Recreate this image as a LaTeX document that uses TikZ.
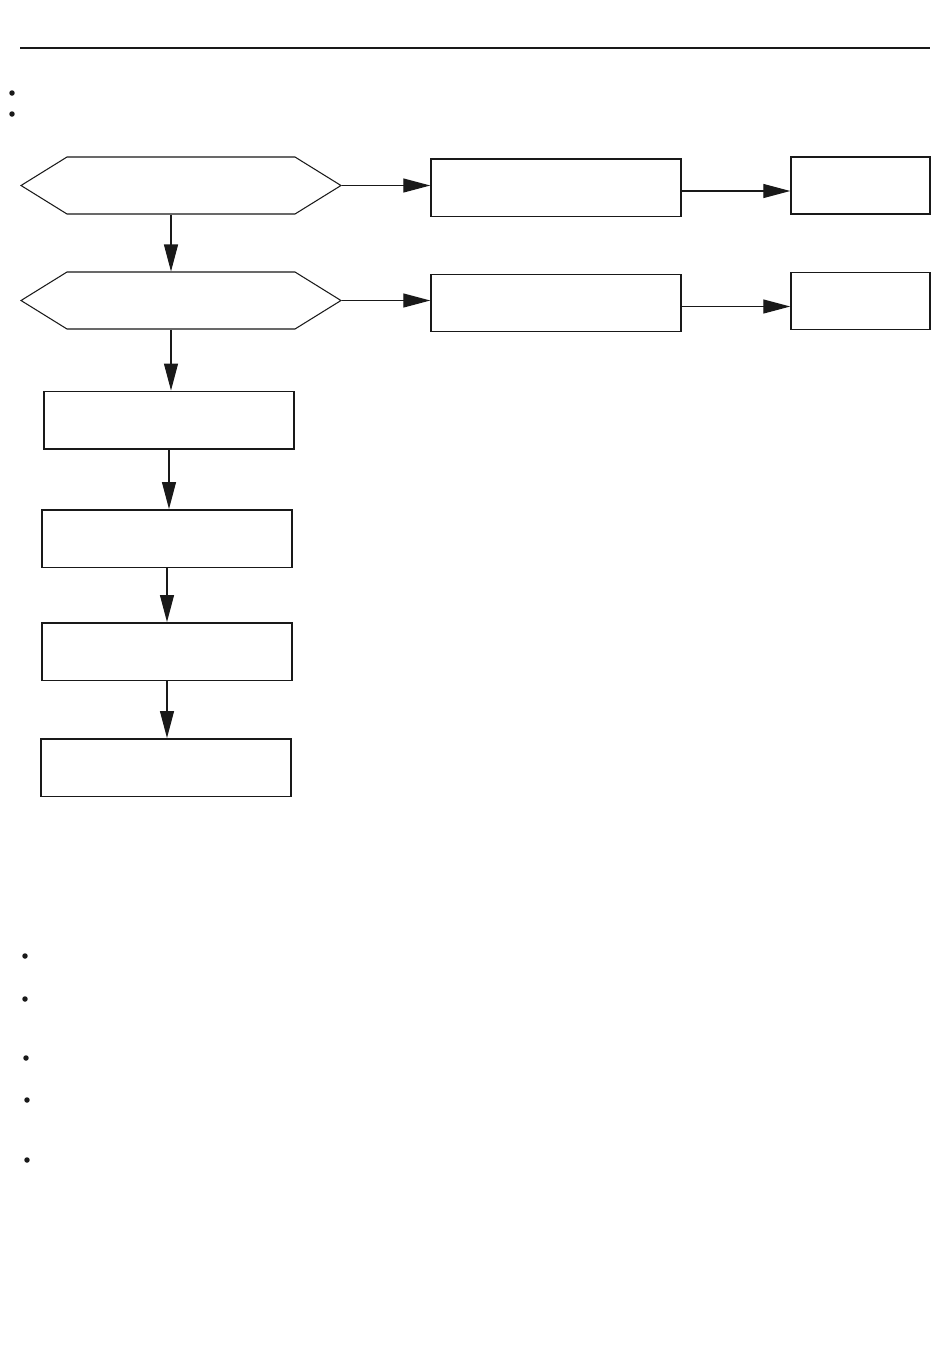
\documentclass[tikz,border=0pt]{standalone}
\usetikzlibrary{positioning, arrows.meta, shapes.symbols}

\begin{document}
\begin{tikzpicture}[
    x=0.02cm, y=-0.02cm,
    box/.style={rectangle, draw=black!90, line width=0.85pt,
                minimum width=5cm, minimum height=1.15cm, inner sep=0pt},
    sidebox/.style={box, minimum width=2.78cm, minimum height=1.14cm},
    hexbox/.style={signal, signal to=west and east,
                   signal pointer angle=63.6, draw=black!90, line width=0.6pt,
                   minimum width=6.4cm, minimum height=1.14cm, inner sep=0pt},
    arrow/.style={-{Triangle[length=0.54cm, width=0.28cm]}, line width=0.7pt, black!90},
    dot/.style={circle, fill=black!90, inner sep=0pt, minimum size=0.11cm}
]
\useasboundingbox (0,0) rectangle (950,1370);

% Header rule and bullets
\draw[line width=1.6pt, black!90] (20,48) -- (930,48);
\node[dot] (topdotA) at (12,93) {};
\node[dot] (topdotB) at (12,114) {};

% Decision hexagons
\node[hexbox] (hexa) at (181,185.5) {};
\node[hexbox] (hexb) at (181,300.5) {};

% Right-hand branches
\node[box] (checka) at (556,187.5) {};
\node[sidebox] (resa) at (860.5,185.5) {};
\node[box] (checkb) at (556,303) {};
\node[sidebox] (resb) at (860.5,301) {};

% Main column
\node[box] (stepa) at (169,420) {};
\node[box] (stepb) at (167,538.5) {};
\node[box] (stepc) at (167,651.5) {};
\node[box] (stepd) at (166,767.5) {};

% Connectors
\draw[arrow] (hexa.east) -- (hexa.east -| checka.west);
\draw[arrow] ([yshift=-0.07cm]checka.east) -- ([yshift=-0.07cm]checka.east -| resa.west);
\draw[arrow] (hexb.east) -- (hexb.east -| checkb.west);
\draw[arrow] ([yshift=-0.07cm]checkb.east) -- ([yshift=-0.07cm]checkb.east -| resb.west);
\draw[arrow] ([xshift=-0.2cm]hexa.south) -- ([xshift=-0.2cm]hexb.north);
\draw[arrow] ([xshift=-0.2cm]hexb.south) -- ([xshift=-0.2cm]hexb.south |- stepa.north);
\draw[arrow] (stepa.south) -- (stepa.south |- stepb.north);
\draw[arrow] (stepb.south) -- (stepc.north);
\draw[arrow] (stepc.south) -- (stepc.south |- stepd.north);

% Notes below
\foreach \name/\px/\py in {notea/25/956, noteb/25/999, notec/26/1058, noted/27/1100, notee/27/1160}
    \node[dot] (\name) at (\px,\py) {};

\end{tikzpicture}
\end{document}
